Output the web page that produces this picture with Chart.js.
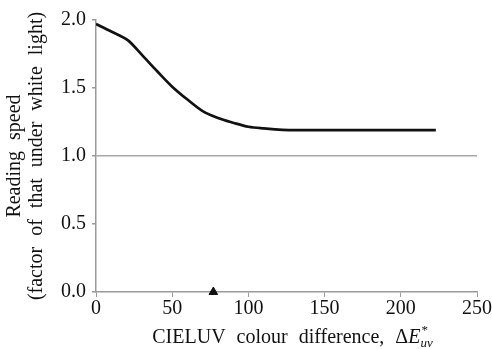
<!DOCTYPE html>
<html lang="en">
<head>
    <meta charset="UTF-8">
    <title>Reading speed vs CIELUV colour difference</title>
    <script src="https://cdn.jsdelivr.net/npm/chart.js"></script>
    <style>
        body {
            margin: 0;
            background: white;
        }
        .chart-box {
            position: relative;
            width: 492px;
            height: 349px;
        }
    </style>
</head>
<body>
    <div class="chart-box">
        <canvas id="speedChart"></canvas>
    </div>

    <script>
        // data
        const colourDiff = [0, 10, 21, 30, 40, 50, 60, 70, 80, 90, 100, 110, 130, 160, 223];
        const readingSpeed = [1.97, 1.915, 1.85, 1.745, 1.625, 1.51, 1.415, 1.33, 1.28, 1.245, 1.215, 1.203, 1.19, 1.19, 1.19];
        const markerX = [77];
        const markerY = [0];
        const xTicks = [0, 50, 100, 150, 200, 250];
        const yTicks = [0.0, 0.5, 1.0, 1.5, 2.0];
        const yTitle = ['Reading speed', '(factor of that under white light)'];

        const serif = "'Liberation Serif', 'Times New Roman', serif";
        const axisGrey = '#9a9a9a';

        // titles drawn by hand: wide word spacing + italic / sub / superscript parts
        const titlePlugin = {
            id: 'titles',
            afterDraw(chart) {
                const ctx = chart.ctx;
                const x = chart.scales.x;
                const y = chart.scales.y;
                ctx.save();
                ctx.fillStyle = '#111';
                ctx.wordSpacing = '6px';

                // x title
                const parts = [
                    { t: 'CIELUV colour difference, \u0394', f: '20px ' + serif },
                    { t: 'E', f: 'italic 20px ' + serif },
                    { t: 'uv', f: 'italic 13px ' + serif },
                    { t: '*', f: '13px ' + serif }
                ];
                ctx.textBaseline = 'alphabetic';
                const w = parts.map(p => { ctx.font = p.f; return ctx.measureText(p.t).width; });
                const total = w[0] + w[1] + Math.max(w[2], w[3]);
                let cx = (x.left + x.right) / 2 - total / 2 + 6;
                const base = 343;
                ctx.font = parts[0].f; ctx.fillText(parts[0].t, cx, base); cx += w[0];
                ctx.font = parts[1].f; ctx.fillText(parts[1].t, cx, base); cx += w[1];
                ctx.font = parts[2].f; ctx.fillText(parts[2].t, cx, base + 4);
                ctx.font = parts[3].f; ctx.fillText(parts[3].t, cx + 1, base - 9);

                // y title, two rotated lines
                const midY = (y.top + y.bottom) / 2;
                ctx.font = '20px ' + serif;
                ctx.textAlign = 'center';
                ctx.textBaseline = 'middle';
                [15, 37].forEach((lx, i) => {
                    ctx.save();
                    ctx.translate(lx, midY);
                    ctx.rotate(-Math.PI / 2);
                    ctx.fillText(yTitle[i], 0, 0);
                    ctx.restore();
                });
                ctx.restore();
            }
        };

        new Chart(document.getElementById('speedChart'), {
            type: 'line',
            data: {
                datasets: [{
                    data: colourDiff.map((v, i) => ({ x: v, y: readingSpeed[i] })),
                    borderColor: '#111',
                    borderWidth: 2.7,
                    pointRadius: 0,
                    tension: 0.3,
                    cubicInterpolationMode: 'monotone',
                    fill: false
                }, {
                    type: 'scatter',
                    data: markerX.map((v, i) => ({ x: v, y: markerY[i] })),
                    pointStyle: 'triangle',
                    pointRadius: 5,
                    backgroundColor: '#111',
                    borderColor: '#111',
                    borderWidth: 1,
                    clip: false
                }]
            },
            options: {
                responsive: true,
                maintainAspectRatio: false,
                animation: false,
                layout: {
                    padding: { left: 0, top: 20, right: 13, bottom: 0 }
                },
                plugins: {
                    legend: { display: false },
                    tooltip: { enabled: false }
                },
                scales: {
                    x: {
                        type: 'linear',
                        min: 0,
                        max: 250,
                        afterBuildTicks: s => { s.ticks = xTicks.map(v => ({ value: v })); },
                        afterFit: s => { s.height = 57; },
                        border: { color: axisGrey, width: 1.5 },
                        grid: {
                            drawOnChartArea: false,
                            tickColor: axisGrey,
                            tickLength: 5
                        },
                        ticks: {
                            color: '#111',
                            padding: 0,
                            maxRotation: 0,
                            font: { family: serif, size: 20 }
                        }
                    },
                    y: {
                        min: 0,
                        max: 2,
                        afterBuildTicks: s => { s.ticks = yTicks.map(v => ({ value: v })); },
                        afterFit: s => { s.width = 96; },
                        border: { color: axisGrey, width: 1.5 },
                        grid: {
                            color: c => (c.tick && c.tick.value === 1 ? '#a8a8a8' : 'rgba(0,0,0,0)'),
                            lineWidth: 1.5,
                            tickColor: axisGrey,
                            tickLength: 4
                        },
                        ticks: {
                            color: '#111',
                            padding: 6,
                            font: { family: serif, size: 20 },
                            callback: v => v.toFixed(1)
                        }
                    }
                }
            },
            plugins: [titlePlugin]
        });
    </script>
</body>
</html>
